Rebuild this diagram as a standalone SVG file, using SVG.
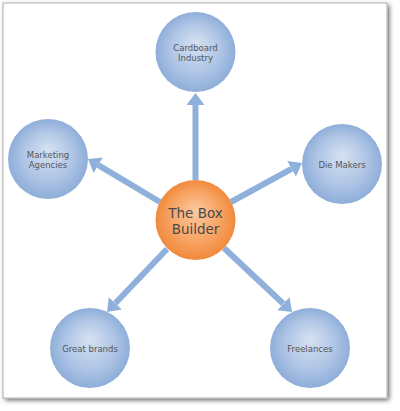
<svg xmlns="http://www.w3.org/2000/svg" width="400" height="411" viewBox="0 0 400 411">
<defs>
<radialGradient id="gBlue" cx="0.5" cy="0.5" r="0.5" fx="0.5" fy="0.38">
<stop offset="0" stop-color="#d6e1f1"/>
<stop offset="0.6" stop-color="#b0c6e6"/>
<stop offset="1" stop-color="#8eaed9"/>
</radialGradient>
<radialGradient id="gOrange" cx="0.5" cy="0.5" r="0.5" fx="0.5" fy="0.38">
<stop offset="0" stop-color="#fcc9a2"/>
<stop offset="0.6" stop-color="#f8a566"/>
<stop offset="1" stop-color="#f08a3c"/>
</radialGradient>
<filter id="shadow" x="-5%" y="-5%" width="115%" height="115%">
<feGaussianBlur stdDeviation="2.5"/>
</filter>
<marker id="ah" viewBox="0 0 12 18" refX="0" refY="9" markerWidth="2" markerHeight="3" markerUnits="strokeWidth" orient="auto">
<path d="M0,0 L12,9 L0,18 Z" fill="#8eb0da"/>
</marker>
<style>
.conn{stroke:#8eb0da;stroke-width:6;fill:none}
.node{fill:url(#gBlue)}
.lbl{font-family:"DejaVu Sans",Verdana,sans-serif;font-size:8.5px;fill:#555;text-anchor:middle}
.clbl{font-family:"DejaVu Sans",Verdana,sans-serif;font-size:13.5px;fill:#4a4a4a;text-anchor:middle}
</style>
</defs>
<rect x="5" y="5" width="384" height="395" fill="#555" filter="url(#shadow)"/>
<rect x="3" y="3" width="384" height="395" fill="#fff" stroke="#c8c8c8" stroke-width="1.5"/>
<g id="connectors">
<line class="conn" x1="195.5" y1="180" x2="195.5" y2="105" marker-end="url(#ah)"/>
<line class="conn" x1="160" y1="202" x2="98.3" y2="165.2" marker-end="url(#ah)"/>
<line class="conn" x1="231" y1="202" x2="291.5" y2="168.8" marker-end="url(#ah)"/>
<line class="conn" x1="167" y1="249" x2="115.3" y2="303.3" marker-end="url(#ah)"/>
<line class="conn" x1="224" y1="248" x2="283.3" y2="303.8" marker-end="url(#ah)"/>
</g>
<g id="center">
<circle cx="195.5" cy="220" r="40" fill="url(#gOrange)"/>
<text class="clbl" x="195.5" y="218">The Box</text>
<text class="clbl" x="195.5" y="234">Builder</text>
</g>
<g id="cardboard">
<circle class="node" cx="195.5" cy="52" r="40"/>
<text class="lbl" x="195.5" y="50.5">Cardboard</text>
<text class="lbl" x="195.5" y="60.5">Industry</text>
</g>
<g id="marketing">
<circle class="node" cx="48" cy="159" r="40"/>
<text class="lbl" x="48" y="157.5">Marketing</text>
<text class="lbl" x="48" y="167.5">Agencies</text>
</g>
<g id="diemakers">
<circle class="node" cx="342" cy="164" r="40"/>
<text class="lbl" x="342" y="167.5">Die Makers</text>
</g>
<g id="greatbrands">
<circle class="node" cx="90" cy="348" r="40"/>
<text class="lbl" x="90" y="351.5">Great brands</text>
</g>
<g id="freelances">
<circle class="node" cx="310" cy="348" r="40"/>
<text class="lbl" x="310" y="351.5">Freelances</text>
</g>
</svg>
